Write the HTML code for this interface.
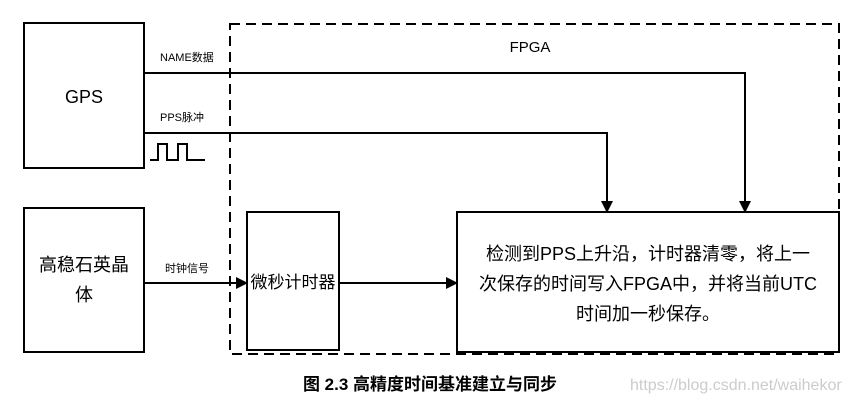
<!DOCTYPE html>
<html><head><meta charset="utf-8"><style>
body{margin:0;background:#fff;}
text{font-family:"Liberation Sans","Noto Sans CJK SC",sans-serif;fill:#000;}
</style></head><body>
<svg width="850" height="400" xmlns="http://www.w3.org/2000/svg">
<defs><marker id="a" markerWidth="12" markerHeight="12" refX="11" refY="6" orient="auto" markerUnits="userSpaceOnUse"><path d="M0,0 L12,6 L0,12 z" fill="#000"/></marker></defs>
<rect x="230" y="24" width="609" height="330" fill="none" stroke="#000" stroke-width="2" stroke-dasharray="10,6"/>
<text x="530" y="52" font-size="15" text-anchor="middle">FPGA</text>
<rect x="24" y="23" width="120" height="145" fill="none" stroke="#000" stroke-width="2"/>
<text x="84" y="103" font-size="18" text-anchor="middle">GPS</text>
<rect x="24" y="208" width="120" height="144" fill="none" stroke="#000" stroke-width="2"/>
<text x="84" y="271" font-size="18" text-anchor="middle">高稳石英晶</text>
<text x="84" y="301" font-size="18" text-anchor="middle">体</text>
<rect x="247" y="212" width="92" height="138" fill="none" stroke="#000" stroke-width="2"/>
<text x="293" y="288" font-size="17" text-anchor="middle">微秒计时器</text>
<rect x="457" y="212" width="382" height="140" fill="none" stroke="#000" stroke-width="2"/>
<text x="648" y="260" font-size="18" text-anchor="middle">检测到PPS上升沿，计时器清零，将上一</text>
<text x="648" y="290" font-size="18" text-anchor="middle">次保存的时间写入FPGA中，并将当前UTC</text>
<text x="648" y="320" font-size="18" text-anchor="middle">时间加一秒保存。</text>
<text x="160" y="61" font-size="11">NAME数据</text>
<text x="160" y="121" font-size="11">PPS脉冲</text>
<text x="165" y="272" font-size="11">时钟信号</text>
<polyline points="144,73 745,73 745,212" fill="none" stroke="#000" stroke-width="2" marker-end="url(#a)"/>
<polyline points="144,133 607,133 607,212" fill="none" stroke="#000" stroke-width="2" marker-end="url(#a)"/>
<polyline points="150,160 158,160 158,144 167,144 167,160 178,160 178,144 187,144 187,160 205,160" fill="none" stroke="#000" stroke-width="2"/>
<line x1="144" y1="283" x2="247" y2="283" stroke="#000" stroke-width="2" marker-end="url(#a)"/>
<line x1="339" y1="283" x2="457" y2="283" stroke="#000" stroke-width="2" marker-end="url(#a)"/>
<text x="430" y="390" font-size="17" font-weight="bold" text-anchor="middle" font-family="Liberation Serif,Noto Serif CJK SC,serif">图 2.3  高精度时间基准建立与同步</text>
<text x="630" y="390" font-size="16" style="fill:#ccc">https://blog.csdn.net/waihekor</text>
</svg>
</body></html>
